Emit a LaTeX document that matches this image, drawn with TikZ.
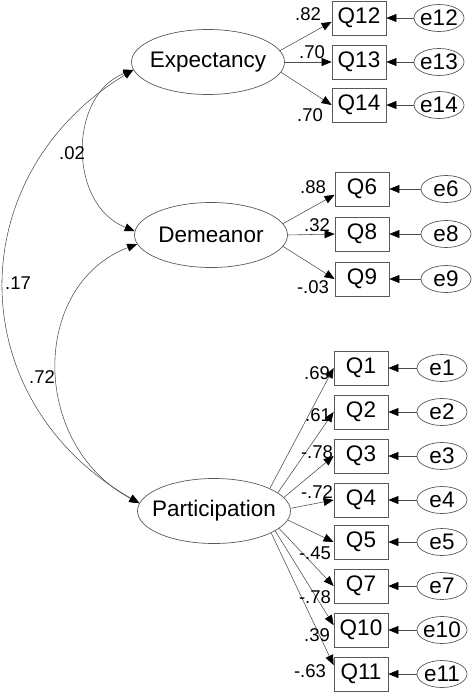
\documentclass[tikz,border=0pt]{standalone}
\usepackage{fontspec}
\setmainfont{Liberation Sans}
\usetikzlibrary{shapes.geometric,arrows.meta}
\begin{document}
\begin{tikzpicture}[x=1pt,y=-1pt,
  lat/.style={ellipse,draw=black!65,line width=0.7pt,minimum width=153pt,minimum height=65pt,inner sep=0pt,font=\fontsize{22.5}{24}\selectfont},
  obs/.style={rectangle,draw=black!65,line width=0.8pt,minimum width=54pt,minimum height=34pt,inner sep=0pt,font=\fontsize{22.5}{24}\selectfont},
  err/.style={ellipse,draw=black!65,line width=0.7pt,minimum width=50pt,minimum height=27pt,inner sep=0pt,font=\fontsize{22.5}{24}\selectfont},
  arr/.style={draw=black!70,line width=0.55pt,-{Triangle[length=10pt,width=8pt,color=black]}},
  cov/.style={draw=black!70,line width=0.55pt,{Triangle[length=10pt,width=8pt,color=black]}-{Triangle[length=10pt,width=8pt,color=black]}},
  lab/.style={font=\fontsize{18.5}{20}\selectfont,inner sep=0pt}]
\useasboundingbox (0,0) rectangle (474,693);
% latent variables
\node[lat] (E) at (208,62) {\makebox[0pt]{Expectancy}};
\node[lat] (D) at (211,235) {\makebox[0pt]{Demeanor}};
\node[lat] (P) at (214,511) {\makebox[0pt]{Participation}};
% observed: Expectancy
\node[obs] (Q12) at (359,18) {Q12};
\node[obs] (Q13) at (359,62) {Q13};
\node[obs] (Q14) at (359,105) {Q14};
\node[err] (e12) at (439,18) {\makebox[0pt]{e12}};
\node[err] (e13) at (439,62) {\makebox[0pt]{e13}};
\node[err] (e14) at (439,105) {\makebox[0pt]{e14}};
% observed: Demeanor
\node[obs] (Q6) at (362,189) {Q6};
\node[obs] (Q8) at (362,234) {Q8};
\node[obs] (Q9) at (362,279) {Q9};
\node[err] (e6) at (446,189) {\makebox[0pt]{e6}};
\node[err] (e8) at (446,234) {\makebox[0pt]{e8}};
\node[err] (e9) at (446,279) {\makebox[0pt]{e9}};
% observed: Participation
\node[obs] (Q1) at (361,368) {Q1};
\node[obs] (Q2) at (361,412) {Q2};
\node[obs] (Q3) at (361,456) {Q3};
\node[obs] (Q4) at (361,500) {Q4};
\node[obs] (Q5) at (361,542) {Q5};
\node[obs] (Q7) at (361,586) {Q7};
\node[obs] (Q10) at (361,630) {Q10};
\node[obs] (Q11) at (361,674) {Q11};
\node[err] (e1) at (442,368) {\makebox[0pt]{e1}};
\node[err] (e2) at (442,412) {\makebox[0pt]{e2}};
\node[err] (e3) at (442,456) {\makebox[0pt]{e3}};
\node[err] (e4) at (442,500) {\makebox[0pt]{e4}};
\node[err] (e5) at (442,542) {\makebox[0pt]{e5}};
\node[err] (e7) at (442,586) {\makebox[0pt]{e7}};
\node[err] (e10) at (442,630) {\makebox[0pt]{e10}};
\node[err] (e11) at (442,674) {\makebox[0pt]{e11}};
% loadings
\draw[arr] (E.9) -- (Q12.188);
\draw[arr] (E.0) -- (Q13.west);
\draw[arr] (E.-8) -- (Q14.west);
\draw[arr] (D.9) -- (Q6.192);
\draw[arr] (D.0) -- (Q8.west);
\draw[arr] (D.-9) -- (Q9.west);
\draw[arr] (P.22) -- (Q1.west);
\draw[arr] (P.16) -- (Q2.west);
\draw[arr] (P.11) -- (Q3.west);
\draw[arr] (P.2) -- (Q4.west);
\draw[arr] (P.-7) -- (Q5.west);
\draw[arr] (P.-15) -- (Q7.west);
\draw[arr] (P.-18) -- (Q10.170);
\draw[arr] (P.-21) -- (Q11.162);
% errors
\foreach \e/\q in {e12/Q12,e13/Q13,e14/Q14,e6/Q6,e8/Q8,e9/Q9,e1/Q1,e2/Q2,e3/Q3,e4/Q4,e5/Q5,e7/Q7,e10/Q10,e11/Q11}
  \draw[arr] (\e) -- (\q);
% covariances
\draw[cov] (E.186) .. controls (68,95) and (68,205) .. (D.177);
\draw[cov] (E.186) .. controls (-40,175) and (-40,400) .. (P.174);
\draw[cov] (D.187) .. controls (30,285) and (30,445) .. (P.174);
% labels
\node[lab] (l02) at (72,153) {.02};
\node[lab] (l17) at (18,283) {.17};
\node[lab] (l72) at (42,377) {.72};
\node[lab] (l82) at (308,14) {.82};
\node[lab] (l70a) at (312,52) {.70};
\node[lab] (l70b) at (310,115) {.70};
\node[lab] (l88) at (313,187) {.88};
\node[lab] (l32) at (317,225) {.32};
\node[lab] (l03) at (313,287) {-.03};
\node[lab] (l69) at (317,373) {.69};
\node[lab] (l61) at (318,415) {.61};
\node[lab] (l78a) at (317,452) {-.78};
\node[lab] (l72b) at (317,492) {-.72};
\node[lab] (l45) at (315,553) {-.45};
\node[lab] (l78b) at (315,597) {-.78};
\node[lab] (l39) at (317,635) {.39};
\node[lab] (l63) at (310,671) {-.63};
\end{tikzpicture}
\end{document}
